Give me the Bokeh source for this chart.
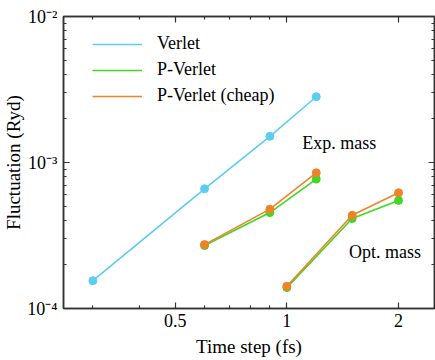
from bokeh.plotting import figure
from bokeh.models import (FixedTicker, CustomJSTickFormatter, LogAxis, Label,
                          Legend, LegendItem)
from bokeh.embed import file_html
from bokeh.resources import INLINE

# ---- data ----
verlet_dt = [0.3, 0.6, 0.9, 1.2]
verlet_fl = [1.55e-4, 6.6e-4, 1.51e-3, 2.82e-3]

exp_dt = [0.6, 0.9, 1.2]
exp_pv = [2.70e-4, 4.54e-4, 7.7e-4]
exp_pvc = [2.74e-4, 4.79e-4, 8.5e-4]

opt_dt = [1.0, 1.5, 2.0]
opt_pv = [1.39e-4, 4.13e-4, 5.5e-4]
opt_pvc = [1.42e-4, 4.35e-4, 6.2e-4]

x_major = [0.5, 1, 2]
x_minor = [0.3, 0.4, 0.6, 0.7, 0.8, 0.9]
y_major = [1e-4, 1e-3, 1e-2]
y_minor = [m * d for d in (1e-4, 1e-3) for m in range(2, 10)]

series_names = ["Verlet", "P-Verlet", "P-Verlet (cheap)"]
notes = ["Exp. mass", "Opt. mass"]
note_x = [1.1, 1.47]
note_y = [1.37e-3, 2.43e-4]

BLUE = "#5ACDF0"
GREEN = "#40D820"
ORANGE = "#F0822A"
FONT = "Liberation Serif"
AX = "#333333"

p = figure(frame_width=371, frame_height=292, x_axis_type="log", y_axis_type="log",
           x_range=(0.25, 2.5), y_range=(1e-4, 1e-2),
           output_backend="svg", toolbar_location=None,
           min_border_left=54, min_border_top=16, min_border_right=2,
           min_border_bottom=44)
p.xgrid.visible = False
p.ygrid.visible = False
p.outline_line_color = AX
p.outline_line_width = 1.5
p.background_fill_color = "white"
p.border_fill_color = "white"

xt = FixedTicker(ticks=x_major, minor_ticks=x_minor)
yt = FixedTicker(ticks=y_major, minor_ticks=y_minor)
xfmt = CustomJSTickFormatter(code="return tick.toString();")
yfmt = CustomJSTickFormatter(code="""
const e = Math.round(Math.log10(tick));
const sup = {"-4": "\u207b\u2074", "-3": "\u207b\u00b3", "-2": "\u207b\u00b2"};
return "10" + sup[String(e)];
""")
blank = CustomJSTickFormatter(code="return '';")


def style_axis(ax):
    ax.axis_line_color = AX
    ax.axis_line_width = 1.5
    ax.major_tick_in = 6
    ax.major_tick_out = 0
    ax.minor_tick_in = 3
    ax.minor_tick_out = 0
    ax.major_tick_line_color = AX
    ax.minor_tick_line_color = AX
    ax.major_tick_line_width = 1.2
    ax.minor_tick_line_width = 1.2
    ax.major_label_text_font = FONT
    ax.major_label_text_font_size = "18px"
    ax.major_label_text_color = "black"
    ax.axis_label_text_font = FONT
    ax.axis_label_text_font_size = "19px"
    ax.axis_label_text_font_style = "normal"
    ax.axis_label_text_color = "black"


xa = p.xaxis[0]
xa.ticker = xt
xa.formatter = xfmt
xa.axis_label = "Time step (fs)"
style_axis(xa)
xa.major_label_standoff = 5
xa.axis_label_standoff = 6

ya = p.yaxis[0]
ya.ticker = yt
ya.formatter = yfmt
ya.axis_label = "Fluctuation (Ryd)"
style_axis(ya)
ya.major_label_standoff = 6
ya.axis_label_standoff = 0

top = LogAxis(ticker=FixedTicker(ticks=x_major, minor_ticks=x_minor), formatter=blank)
right = LogAxis(ticker=FixedTicker(ticks=y_major, minor_ticks=y_minor), formatter=blank)
for ax in (top, right):
    style_axis(ax)
    ax.major_label_standoff = 0
    ax.major_label_text_font_size = "0px"
p.add_layout(top, "above")
p.add_layout(right, "right")

lw = 1.6
ms = 8
l1 = p.line(verlet_dt, verlet_fl, line_color=BLUE, line_width=lw)
p.scatter(verlet_dt, verlet_fl, size=ms, fill_color=BLUE, line_color=BLUE)

l2 = p.line(exp_dt, exp_pv, line_color=GREEN, line_width=lw)
p.scatter(exp_dt, exp_pv, size=ms, fill_color=GREEN, line_color=GREEN)
p.line(opt_dt, opt_pv, line_color=GREEN, line_width=lw)
p.scatter(opt_dt, opt_pv, size=ms, fill_color=GREEN, line_color=GREEN)

l3 = p.line(exp_dt, exp_pvc, line_color=ORANGE, line_width=lw)
p.scatter(exp_dt, exp_pvc, size=ms, fill_color=ORANGE, line_color=ORANGE)
p.line(opt_dt, opt_pvc, line_color=ORANGE, line_width=lw)
p.scatter(opt_dt, opt_pvc, size=ms, fill_color=ORANGE, line_color=ORANGE)

legend = Legend(items=[LegendItem(label=series_names[0], renderers=[l1]),
                       LegendItem(label=series_names[1], renderers=[l2]),
                       LegendItem(label=series_names[2], renderers=[l3])],
                location=(29, 202))
legend.border_line_color = None
legend.background_fill_alpha = 0
legend.padding = 0
legend.margin = 0
legend.spacing = 5
legend.glyph_width = 50
legend.glyph_height = 20
legend.label_height = 20
legend.label_standoff = 15
legend.label_text_font = FONT
legend.label_text_font_size = "18px"
legend.label_text_color = "black"
p.add_layout(legend, "center")

for t, x, y in zip(notes, note_x, note_y):
    p.add_layout(Label(x=x, y=y, text=t, text_font=FONT, text_font_size="18px",
                       text_baseline="middle", text_align="left", text_color="black"))

open("out.html", "w").write(file_html(p, INLINE))
